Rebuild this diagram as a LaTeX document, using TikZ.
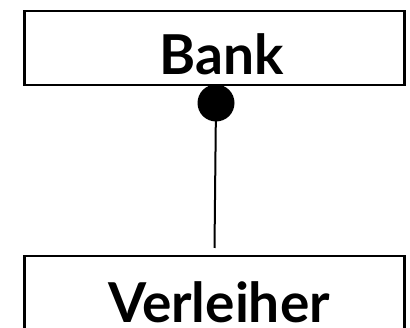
\documentclass[tikz,border=0pt]{standalone}
\usepackage{fontspec}
\setmainfont{Lato}
\begin{document}
\begin{tikzpicture}[x=1pt,y=-1pt,
  entity/.style={draw=black,line width=2.5pt,minimum width=380pt,inner sep=0pt,anchor=north west},
  lbl/.style={font=\bfseries\fontsize{55}{60}\selectfont,anchor=base,inner sep=0pt},
  dot/.style={circle,fill=black,minimum size=37pt,inner sep=0pt},
  conn/.style={line width=2pt}]
\useasboundingbox (0,0) rectangle (410,328);
\clip (0,0) rectangle (410,328);
\node[entity,minimum height=74pt] (bank) at (23,10) {};
\node[lbl] (banktxt) at (222,75) {Bank};
\node[entity,minimum height=90pt] (verl) at (23,255) {};
\node[lbl] (verltxt) at (219,323) {Verleiher};
\node[dot] (d) at (216,103) {};
\coordinate (e) at (214.5,248);
\draw[conn] (d.center) -- (e);
\end{tikzpicture}
\end{document}
